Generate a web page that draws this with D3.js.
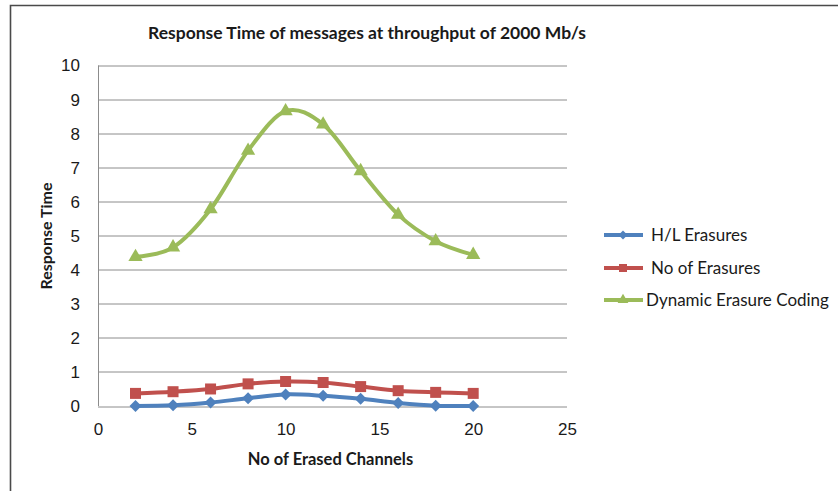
<!DOCTYPE html>
<html>
<head>
<meta charset="utf-8">
<script src="https://cdn.jsdelivr.net/npm/d3@7"></script>
<style>
  body { margin: 0; background: #fff; }
  svg { display: block; font-family: Lato, "Open Sans", sans-serif; }
</style>
</head>
<body>
<div id="chart"></div>
<script>
// data
const channels = [2, 4, 6, 8, 10, 12, 14, 16, 18, 20];
const hlErasures = [0, 0.02, 0.1, 0.23, 0.34, 0.3, 0.21, 0.09, 0.01, 0];
const noOfErasures = [0.37, 0.42, 0.5, 0.65, 0.72, 0.69, 0.57, 0.45, 0.4, 0.37];
const dynamicCoding = [4.38, 4.66, 5.78, 7.5, 8.66, 8.27, 6.9, 5.62, 4.84, 4.44];
const seriesNames = ["H/L Erasures", "No of Erasures", "Dynamic Erasure Coding"];
const xTicks = [0, 5, 10, 15, 20, 25];
const yTicks = [0, 1, 2, 3, 4, 5, 6, 7, 8, 9, 10];

const W = 838, H = 491;
const margin = { top: 65.5, right: 271, bottom: 85, left: 98 };
const width = W - margin.left - margin.right;
const height = H - margin.top - margin.bottom;

const svg = d3.select("#chart").append("svg")
  .attr("width", W)
  .attr("height", H);

// outer frame (only top and left edges fall inside the picture)
svg.append("path")
  .attr("d", `M10.5,${H} L10.5,5.5 L${W},5.5`)
  .attr("fill", "none")
  .attr("stroke", "#4a4a4a")
  .attr("stroke-width", 1.6);

const g = svg.append("g")
  .attr("transform", `translate(${margin.left},${margin.top})`);

const x = d3.scaleLinear().domain([0, 25]).range([0, width]);
const y = d3.scaleLinear().domain([0, 10]).range([height, 0]);

// gridlines
g.append("g")
  .selectAll("line")
  .data(yTicks)
  .join("line")
  .attr("x1", 0)
  .attr("x2", width)
  .attr("y1", d => Math.round(y(d)) + 0.5)
  .attr("y2", d => Math.round(y(d)) + 0.5)
  .attr("stroke", "#8c8c8c")
  .attr("stroke-width", 1);

// y axis
const yAxis = g.append("g")
  .call(d3.axisLeft(y).tickValues(yTicks).tickSize(0).tickPadding(18));
yAxis.select(".domain").attr("stroke", "#8c8c8c").attr("d", `M0.5,${height}V0`);
yAxis.selectAll("text")
  .style("font-size", "17px")
  .style("fill", "#1a1a1a");

// x axis
const xAxis = g.append("g")
  .attr("transform", `translate(0,${height})`)
  .call(d3.axisBottom(x).tickValues(xTicks).tickSize(0).tickPadding(17));
xAxis.select(".domain").remove();
xAxis.selectAll("text")
  .style("font-size", "17px")
  .style("fill", "#1a1a1a");

// title
svg.append("text")
  .attr("x", 367)
  .attr("y", 39)
  .attr("text-anchor", "middle")
  .style("font-size", "17.5px")
  .style("font-weight", "bold")
  .style("fill", "#1a1a1a")
  .text("Response Time of messages at throughput of 2000 Mb/s");

// axis labels
svg.append("text")
  .attr("x", margin.left + x(12.5) - 2)
  .attr("y", 465)
  .attr("text-anchor", "middle")
  .style("font-size", "16.5px")
  .style("font-weight", "bold")
  .style("fill", "#1a1a1a")
  .text("No of Erased Channels");

svg.append("text")
  .attr("transform", "translate(52,236) rotate(-90)")
  .attr("text-anchor", "middle")
  .style("font-size", "16px")
  .style("font-weight", "bold")
  .style("fill", "#1a1a1a")
  .text("Response Time");

// series
const colors = ["#4f81bd", "#c0504d", "#9bbb59"];
const seriesValues = [hlErasures, noOfErasures, dynamicCoding];

const diamond = d3.symbol().type(d3.symbolSquare).size(72)();
const square = d3.symbol().type(d3.symbolSquare).size(121)();
const triangle = d3.symbol().type(d3.symbolTriangle).size(88)();
const markers = [
  { d: diamond, rot: 45 },
  { d: square, rot: 0 },
  { d: triangle, rot: 0 }
];

const line = d3.line()
  .x(d => x(d[0]))
  .y(d => y(d[1]))
  .curve(d3.curveCardinal.tension(0));

seriesValues.forEach((vals, i) => {
  const pts = channels.map((c, j) => [c, vals[j]]);
  g.append("path")
    .datum(pts)
    .attr("fill", "none")
    .attr("stroke", colors[i])
    .attr("stroke-width", 4)
    .attr("stroke-linejoin", "round")
    .attr("d", line);

  g.selectAll(null)
    .data(pts)
    .join("path")
    .attr("d", markers[i].d)
    .attr("transform", d => `translate(${x(d[0])},${y(d[1])}) rotate(${markers[i].rot})`)
    .attr("fill", colors[i]);
});

// legend
const legendY = [235, 268, 300];
const legendTextX = [651, 651, 646];
const legend = svg.append("g");
seriesNames.forEach((name, i) => {
  legend.append("line")
    .attr("x1", 604)
    .attr("x2", 643)
    .attr("y1", legendY[i])
    .attr("y2", legendY[i])
    .attr("stroke", colors[i])
    .attr("stroke-width", 4);
  legend.append("path")
    .attr("d", i === 0 ? d3.symbol().type(d3.symbolSquare).size(40)()
      : i === 1 ? d3.symbol().type(d3.symbolSquare).size(64)()
      : d3.symbol().type(d3.symbolTriangle).size(50)())
    .attr("transform", `translate(623,${legendY[i]}) rotate(${markers[i].rot})`)
    .attr("fill", colors[i]);
  legend.append("text")
    .attr("x", legendTextX[i])
    .attr("y", legendY[i] + 6)
    .style("font-size", "17px")
    .style("fill", "#1a1a1a")
    .text(name);
});
</script>
</body>
</html>
